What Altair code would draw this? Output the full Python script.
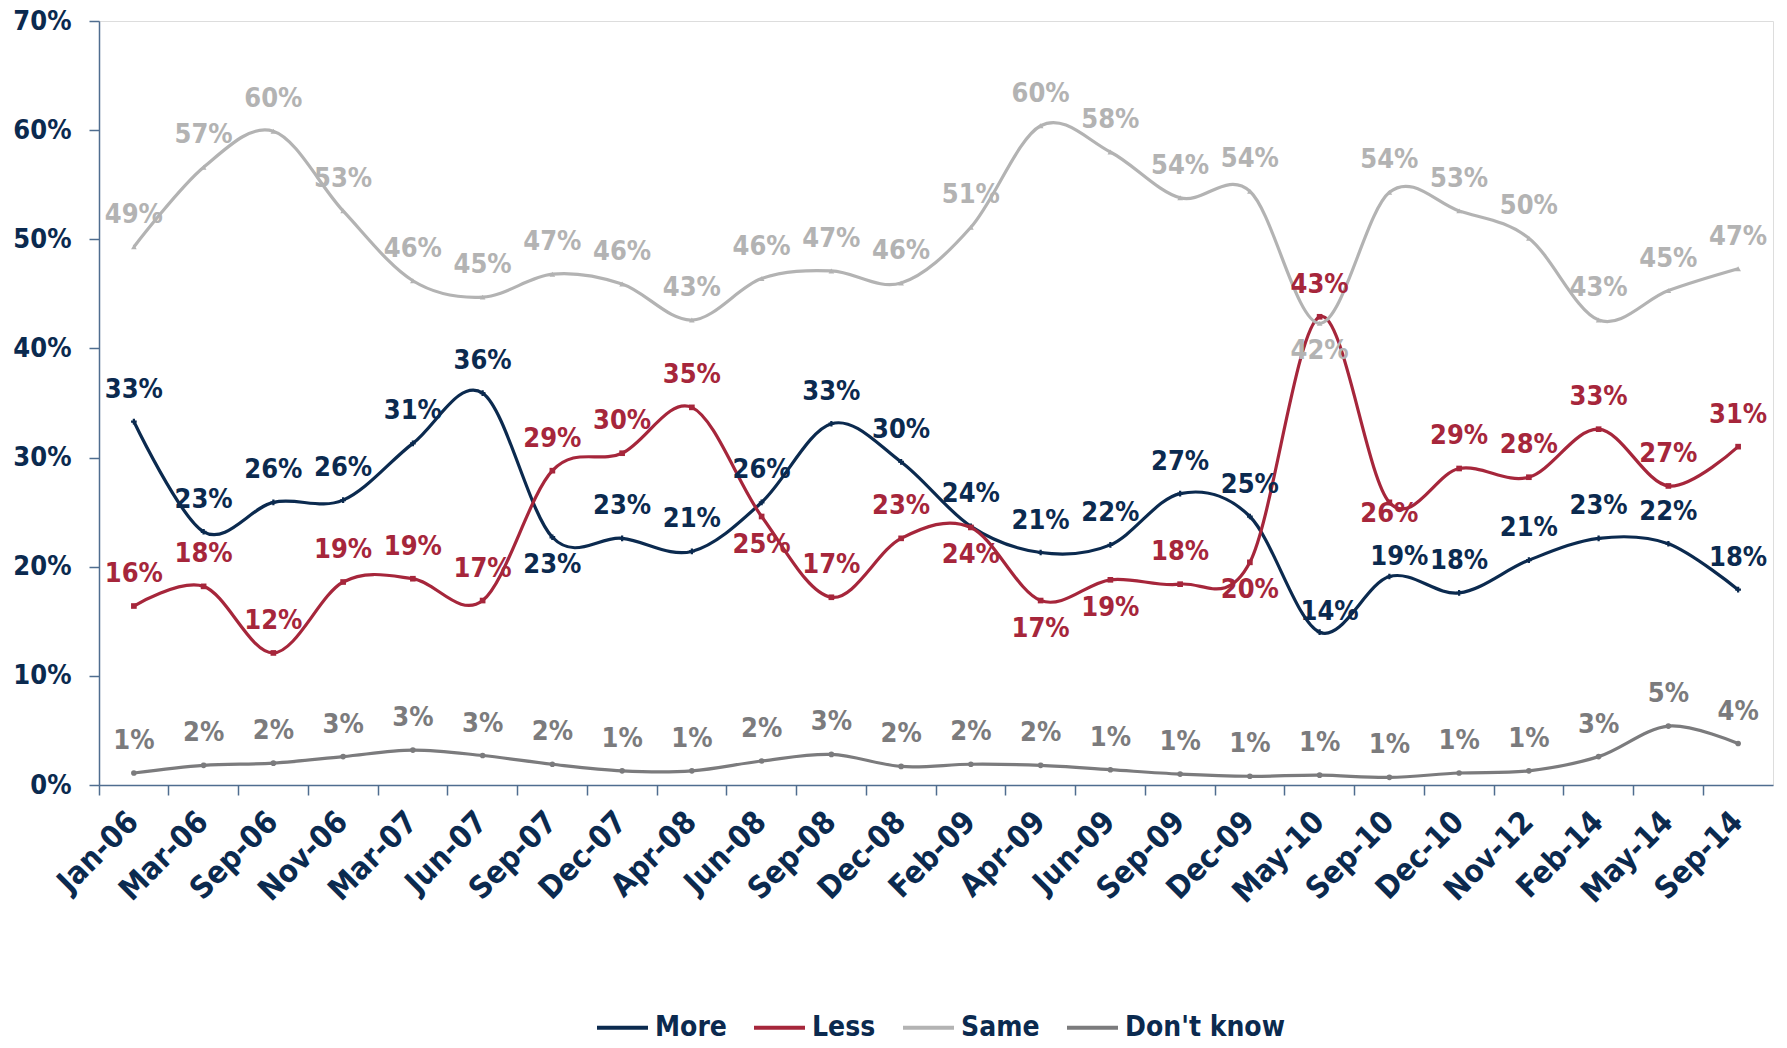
import altair as alt
import pandas as pd

categories = ["Jan-06", "Mar-06", "Sep-06", "Nov-06", "Mar-07", "Jun-07", "Sep-07", "Dec-07",
              "Apr-08", "Jun-08", "Sep-08", "Dec-08", "Feb-09", "Apr-09", "Jun-09", "Sep-09",
              "Dec-09", "May-10", "Sep-10", "Dec-10", "Nov-12", "Feb-14", "May-14", "Sep-14"]
series_names = ["More", "Less", "Same", "Don't know"]

more = [33.3, 23.2, 25.9, 26.1, 31.3, 35.9, 22.7, 22.6, 21.4, 25.9, 33.1, 29.6,
        23.7, 21.3, 22.0, 26.7, 24.6, 14.0, 19.1, 17.6, 20.6, 22.6, 22.1, 17.9]
less = [16.4, 18.2, 12.1, 18.6, 18.9, 16.9, 28.8, 30.4, 34.6, 24.6, 17.2, 22.6,
        23.6, 16.9, 18.8, 18.4, 20.4, 42.9, 25.9, 29.0, 28.2, 32.6, 27.4, 31.0]
same = [49.3, 56.6, 59.9, 52.6, 46.2, 44.7, 46.8, 45.9, 42.6, 46.4, 47.1, 46.0,
        51.1, 60.4, 58.0, 53.8, 54.4, 42.3, 54.3, 52.6, 50.1, 42.6, 45.3, 47.3]
dont_know = [1.1, 1.8, 2.0, 2.6, 3.2, 2.7, 1.9, 1.3, 1.3, 2.2, 2.8, 1.7,
             1.9, 1.8, 1.4, 1.0, 0.8, 0.9, 0.7, 1.1, 1.3, 2.6, 5.4, 3.8]

# label placement: default "above"; exceptions listed here
label_place = {
    ("More", "Sep-07"): "below",
    ("More", "May-10"): "near_above",
    ("More", "Sep-10"): "near_above",
    ("Less", "Jun-08"): "below",
    ("Less", "Feb-09"): "below",
    ("Less", "Apr-09"): "below",
    ("Less", "Jun-09"): "below",
    ("Less", "Dec-09"): "below",
    ("Less", "Sep-10"): "near_below",
    ("Same", "May-10"): "below",
}
place_style = {  # (dx, dy) in pixels relative to the point
    "above": (0, -32),
    "below": (0, 28),
    "near_above": (10, -20),
    "near_below": (0, 12),
}
marker_shapes = {"More": "cross", "Less": "square", "Same": "triangle-up", "Don't know": "circle"}

series_values = {"More": more, "Less": less, "Same": same, "Don't know": dont_know}
rows = []
for s in series_names:
    for c, v in zip(categories, series_values[s]):
        rows.append({"cat": c, "series": s, "value": v,
                     "pos": label_place.get((s, c), "above")})
df = pd.DataFrame(rows)

NAVY = "#0b2a4f"
AXC = "#4f6d8f"
FONT = "DejaVu Sans Condensed, DejaVu Sans, sans-serif"
colors = ["#0b2a4f", "#a6263b", "#b3b3b3", "#7b7b7d"]

color_scale = alt.Scale(domain=series_names, range=colors)
legend = alt.Legend(
    title=None, orient="none", legendX=496, legendY=979, direction="horizontal",
    symbolType="stroke", symbolSize=2600, symbolStrokeWidth=4,
    labelFont=FONT, labelFontSize=28, labelFontWeight="bold", labelColor=NAVY,
    labelOffset=5, columnPadding=19, padding=0, labelLimit=400,
)
color_enc = alt.Color("series:N", scale=color_scale, legend=legend, sort=series_names)

x_enc = alt.X(
    "cat:N", sort=categories,
    scale=alt.Scale(type="band", paddingInner=0, paddingOuter=0),
    axis=alt.Axis(
        title=None, labelAngle=315, labelAlign="right", labelBaseline="middle",
        labelFont=FONT, labelFontSize=31, labelFontWeight="bold", labelColor=NAVY,
        labelPadding=22, bandPosition=0,
        tickSize=10, tickColor=AXC, tickWidth=1.5, domainColor=AXC, domainWidth=1.5,
        grid=False, labelOverlap=False,
    ),
)
y_enc = alt.Y(
    "value:Q",
    scale=alt.Scale(domain=[0, 70], nice=False),
    axis=alt.Axis(
        title=None, values=[0, 10, 20, 30, 40, 50, 60, 70],
        labelExpr="datum.value + '%'",
        labelFont=FONT, labelFontSize=27, labelFontWeight="bold", labelColor=NAVY,
        labelPadding=18, tickSize=10, tickColor=AXC, tickWidth=1.5,
        domainColor=AXC, domainWidth=1.5, grid=False,
    ),
)

base = alt.Chart(df).encode(x=x_enc, y=y_enc, color=color_enc)

lines = base.mark_line(interpolate="cardinal", strokeWidth=3.2)

point_layers = []
for s in series_names:
    point_layers.append(
        base.transform_filter(alt.datum.series == s).mark_point(
            filled=True, opacity=1, size=32, shape=marker_shapes[s])
    )

lbl = base.transform_calculate(
    lbl="format(datum.value, '.0f') + '%'"
).encode(text="lbl:N")

text_layers = []
for p, (ddx, ddy) in place_style.items():
    text_layers.append(
        lbl.transform_filter(alt.datum.pos == p).mark_text(
            dx=ddx, dy=ddy, font=FONT, fontSize=27, fontWeight="bold",
            baseline="middle", align="center")
    )

chart = alt.layer(lines, *point_layers, *text_layers).properties(
    width=1674, height=764,
    padding={"left": 91, "top": 13, "right": 6, "bottom": 255},
    autosize=alt.AutoSizeParams(type="none"),
).configure_view(stroke=None).configure(background="white")

chart.save("out.html", embed_options={"renderer": "svg", "actions": False})
